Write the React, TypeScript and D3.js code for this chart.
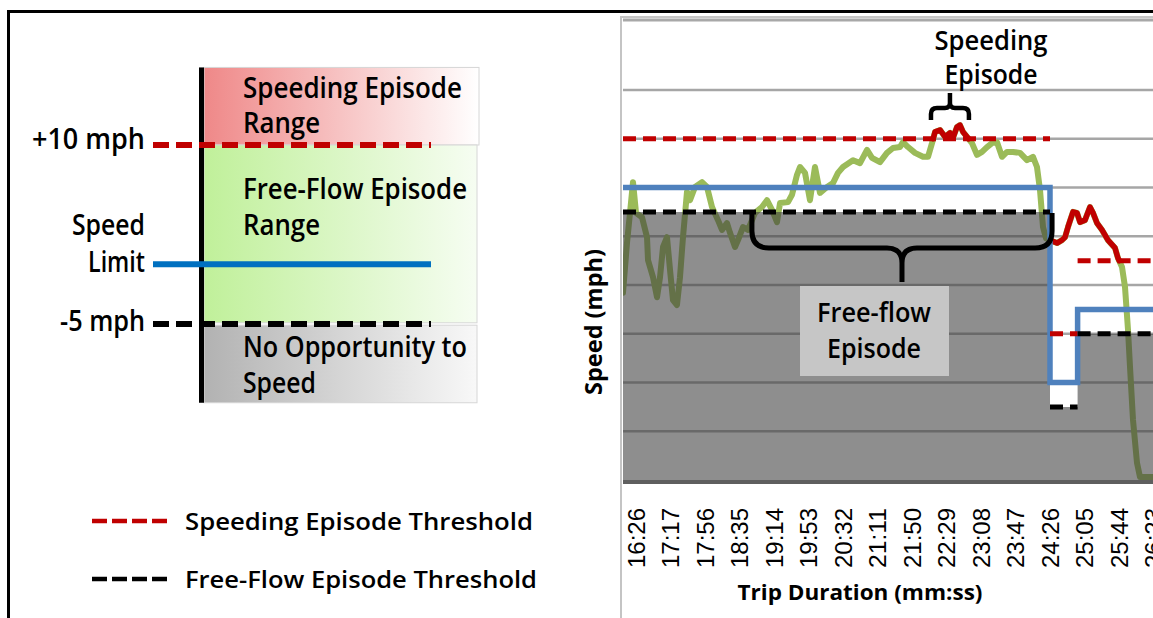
import React from 'react';
import * as d3 from 'd3';

// ---------------- Right chart data ----------------
const tickLabels = ['16:26', '17:17', '17:56', '18:35', '19:14', '19:53', '20:32', '21:11', '21:50', '22:29', '23:08', '23:47', '24:26', '25:05', '25:44', '26:23'];

// [position in tick units (0 = first label), speed in mph]
const speedTrace: [number, number][] = [
  [-0.377, 38.4], [-0.261, 48.6], [-0.174, 54.8], [-0.087, 61.1], [0.0, 54.8], [0.174, 53.9], [0.319, 49.8], [0.348, 45.1],
  [0.493, 41.6], [0.609, 37.5], [0.696, 41.6], [0.783, 47.8], [0.899, 49.8], [0.986, 43.1], [1.072, 36.9], [1.188, 35.9],
  [1.275, 41.6], [1.362, 49.8], [1.478, 59.1], [1.565, 57.4], [1.71, 60.1], [1.913, 61.1], [2.058, 60.1], [2.203, 56.0],
  [2.377, 53.3], [2.493, 51.3], [2.638, 52.7], [2.725, 50.7], [2.87, 47.8], [2.957, 49.2], [3.101, 51.9], [3.246, 51.3],
  [3.449, 54.8], [3.652, 56.0], [3.797, 57.4], [3.942, 55.4], [4.087, 52.9], [4.174, 56.8], [4.406, 57.0], [4.522, 58.5],
  [4.667, 62.6], [4.754, 64.2], [4.899, 63.0], [5.043, 57.4], [5.188, 64.2], [5.333, 58.9], [5.536, 60.1], [5.71, 60.9],
  [5.855, 63.0], [6.0, 64.2], [6.29, 65.6], [6.493, 65.0], [6.696, 67.7], [6.841, 66.1], [7.072, 65.2], [7.275, 67.1],
  [7.449, 68.1], [7.652, 68.3], [7.739, 69.3], [7.884, 68.3], [8.087, 67.1], [8.319, 66.3], [8.464, 66.3], [8.58, 69.1],
  [8.667, 71.4], [8.812, 71.8], [8.957, 70.4], [9.101, 71.2], [9.188, 70.2], [9.304, 72.4], [9.391, 72.8], [9.478, 71.4],
  [9.594, 70.4], [9.739, 69.1], [9.884, 66.7], [10.029, 67.3], [10.174, 68.3], [10.319, 69.1], [10.464, 69.3], [10.609, 66.3],
  [10.754, 67.3], [10.928, 67.3], [11.13, 67.1], [11.333, 65.6], [11.507, 66.3], [11.623, 64.2], [11.71, 59.5], [11.797, 51.9],
  [11.884, 49.6], [12.0, 49.2], [12.203, 48.6], [12.348, 49.2], [12.435, 49.8], [12.522, 51.9], [12.667, 55.0], [12.783, 54.8],
  [12.87, 52.9], [13.014, 53.3], [13.159, 56.0], [13.246, 54.8], [13.362, 52.7], [13.507, 51.3], [13.681, 49.2], [13.884, 47.6],
  [13.971, 45.5], [14.087, 43.7], [14.174, 39.6], [14.261, 30.8], [14.319, 23.2], [14.406, 12.3], [14.522, 3.5], [14.609, 0.6],
  [15.4, 0.6],
];

const segmentStart = [-0.377, 12.0, 12.8];
const segmentEnd = [12.0, 12.8, 15.4];
const speedLimit = [60, 20, 35];
const speedingThreshold = [70, 30, 45];
const freeFlowThreshold = [55, 15, 30];
const gridValues = [10, 20, 30, 40, 50, 60, 70, 80];
const freeFlowEpisode = [3.36, 12.06];
const speedingEpisode = [8.55, 9.65];

// ---------------- Left schematic data (mph relative to limit) ----------------
const bandNames = ['speeding', 'freeflow', 'noopp'];
const bandTop = [16.5, 10, -5.1];
const bandBottom = [10, -4.9, -11.6];
const bandLines = [['Speeding Episode', 'Range'], ['Free-Flow Episode', 'Range'], ['No Opportunity to', 'Speed']];
const levelValues = [10, 0, -5];
const levelLabels = [['+10 mph'], ['Speed', 'Limit'], ['-5 mph']];
const legendLabels = ['Speeding Episode Threshold', 'Free-Flow Episode Threshold'];

// ---------------- styles ----------------
const FONT = "'Open Sans', 'Noto Sans', 'DejaVu Sans', sans-serif";
const GREEN = '#9bbb59';
const RED = '#c00000';
const BLUE = '#4f81bd';
const BLUE2 = '#0070c0';

function bracePath(x0: number, x1: number, yBase: number, yMid: number, yTip: number, r: number, r2: number) {
  const dir = yTip > yBase ? 1 : -1;
  const xm = (x0 + x1) / 2;
  const half = (xe: number, s: number) =>
    `M${xe},${yBase} V${yMid - dir * r} Q${xe},${yMid} ${xe + s * r},${yMid} H${xm - s * r2} Q${xm},${yMid} ${xm},${yMid + dir * r2} V${yTip}`;
  return half(x0, 1) + ' ' + half(x1, -1);
}

export default function App() {
  // Right chart scales
  const x = d3.scaleLinear().domain([0, 15]).range([636, 636 + 15 * 34.5]);
  const y = d3.scaleLinear().domain([0, 80]).range([480, 90]);
  const plotLeft = x(segmentStart[0]);
  const plotRight = 1165;
  const plotTop = 20;
  const plotBottom = y(0);

  const segIndex = (t: number) => {
    for (let i = 0; i < segmentStart.length; i++) if (t >= segmentStart[i] && t < segmentEnd[i]) return i;
    return t < segmentStart[0] ? 0 : segmentStart.length - 1;
  };

  const line = d3.line<[number, number]>().x((d) => x(d[0])).y((d) => y(d[1]));
  const stepData = (vals: number[]) => {
    const d: [number, number][] = segmentStart.map((s, i) => [s, vals[i]]);
    d.push([segmentEnd[segmentEnd.length - 1], vals[vals.length - 1]]);
    return d;
  };
  const stepLine = d3.line<[number, number]>().curve(d3.curveStepAfter).x((d) => x(d[0])).y((d) => y(d[1]));
  const grayArea = d3
    .area<[number, number]>()
    .curve(d3.curveStepAfter)
    .x((d) => x(d[0]))
    .y0(y(0))
    .y1((d) => y(d[1]));

  // red runs where speed exceeds the speeding threshold
  const redRuns: [number, number][][] = [];
  let cur: [number, number][] | null = null;
  for (let k = 0; k < speedTrace.length - 1; k++) {
    const [t0, v0] = speedTrace[k];
    const [t1, v1] = speedTrace[k + 1];
    const th = speedingThreshold[segIndex((t0 + t1) / 2)];
    const a0 = v0 > th;
    const a1 = v1 > th;
    if (!a0 && !a1) {
      if (cur) { redRuns.push(cur); cur = null; }
      continue;
    }
    let p0: [number, number] = [t0, v0];
    let p1: [number, number] = [t1, v1];
    if (!a0) { const f = (th - v0) / (v1 - v0); p0 = [t0 + f * (t1 - t0), th]; }
    if (!a1) { const f = (th - v0) / (v1 - v0); p1 = [t0 + f * (t1 - t0), th]; }
    if (!cur || !a0) { if (cur) redRuns.push(cur); cur = [p0]; }
    cur.push(p1);
    if (!a1) { redRuns.push(cur); cur = null; }
  }
  if (cur) redRuns.push(cur);

  // Left schematic scale
  const sy = d3.scaleLinear().domain([-5, 10]).range([324, 145]);
  const bandColors = [['#ef8888', '#ffffff'], ['#c0f09a', '#f6fdf2'], ['#b2b2b2', '#f8f8f8']];
  const bandRight = [479, 477, 477];
  const bandTextOffsets = [[31, 66], [54, 90], [32, 68]];
  const bandTextWidths = [[219, 77], [224, 77], [224, 73]];
  const levelColors = [RED, BLUE2, '#000'];
  const levelBaselines = [[4], [-29, 8], [7]];
  const levelWidths = [[113], [73, 57], [85]];

  const ffBrace = bracePath(x(freeFlowEpisode[0]), x(freeFlowEpisode[1]), 213, 248, 282, 17, 15);
  const spBrace = bracePath(x(speedingEpisode[0]), x(speedingEpisode[1]), 120, 108, 93, 6, 5);

  return (
    <div style={{ position: 'fixed', left: 0, top: 0, width: 1153, height: 618, background: '#fff' }}>
      <svg width={1153} height={618} style={{ display: 'block' }} fontFamily={FONT}>
        <defs>
          {bandNames.map((n, i) => (
            <linearGradient key={n} id={`g-${n}`} x1="0" x2="1" y1="0" y2="0">
              <stop offset="0" stopColor={bandColors[i][0]} />
              <stop offset="1" stopColor={bandColors[i][1]} />
            </linearGradient>
          ))}
          <clipPath id="plotclip">
            <rect x={plotLeft} y={plotTop} width={plotRight - plotLeft} height={plotBottom - plotTop + 6} />
          </clipPath>
        </defs>

        {/* outer frame */}
        <rect x={8.5} y={11.5} width={1200} height={700} fill="none" stroke="#000" strokeWidth={3} />

        {/* ---------- Left schematic ---------- */}
        {bandNames.map((n, i) => (
          <rect key={n} x={204} y={sy(bandTop[i])} width={bandRight[i] - 204} height={sy(bandBottom[i]) - sy(bandTop[i])}
            fill={`url(#g-${n})`} stroke="#d6d6d6" strokeWidth={1} />
        ))}
        <rect x={199} y={sy(bandTop[0])} width={5} height={sy(bandBottom[2]) - sy(bandTop[0])} fill="#000" />
        {bandLines.map((lines, i) =>
          lines.map((s, j) => (
            <text key={`${i}-${j}`} x={243} y={sy(bandTop[i]) + bandTextOffsets[i][j]} fontSize={28} fontWeight={600}
              textLength={bandTextWidths[i][j]} lengthAdjust="spacingAndGlyphs" fill="#000">{s}</text>
          ))
        )}
        {levelValues.map((v, i) => (
          <line key={`lv${i}`} x1={153} x2={431} y1={sy(v)} y2={sy(v)} stroke={levelColors[i]}
            strokeWidth={6} strokeDasharray={i === 1 ? undefined : '16,7'} />
        ))}
        {levelLabels.map((lines, i) =>
          lines.map((s, j) => (
            <text key={`ll${i}-${j}`} x={145} y={sy(levelValues[i]) + levelBaselines[i][j]} textAnchor="end" fontSize={28}
              fontWeight={600} textLength={levelWidths[i][j]} lengthAdjust="spacingAndGlyphs" fill="#000">{s}</text>
          ))
        )}

        {/* legend */}
        {legendLabels.map((s, i) => (
          <g key={s}>
            <line x1={92} x2={170} y1={521 + i * 58} y2={521 + i * 58} stroke={i === 0 ? RED : '#000'} strokeWidth={4.5}
              strokeDasharray="15,5" />
            <text x={185} y={530 + i * 58} fontSize={24} fontWeight={600} textLength={i === 0 ? 348 : 352}
              lengthAdjust="spacingAndGlyphs" fill="#000">{s}</text>
          </g>
        ))}

        {/* ---------- Right chart ---------- */}
        <rect x={621} y={17} width={600} height={700} fill="#fff" stroke="#c4c4c4" strokeWidth={2} />
        <line x1={plotLeft} x2={plotRight} y1={plotTop} y2={plotTop} stroke="#a8a8a8" strokeWidth={3} />
        <g clipPath="url(#plotclip)">
          {gridValues.map((v) => (
            <line key={v} x1={plotLeft} x2={plotRight} y1={y(v)} y2={y(v)} stroke="#a6a6a6" strokeWidth={2.5} />
          ))}
          <path d={line(speedTrace) || ''} fill="none" stroke={GREEN} strokeWidth={6} strokeLinejoin="round" strokeLinecap="round" />
          {redRuns.map((r, i) => (
            <path key={i} d={line(r) || ''} fill="none" stroke={RED} strokeWidth={5.5} strokeLinejoin="round" strokeLinecap="round" />
          ))}
          <path d={grayArea(stepData(freeFlowThreshold)) || ''} fill="rgb(60,60,60)" fillOpacity={0.58} />
          <path d={stepLine(stepData(speedLimit)) || ''} fill="none" stroke={BLUE} strokeWidth={5.5} />
          {segmentStart.map((s, i) => (
            <g key={`th${i}`}>
              <line x1={x(s)} x2={x(segmentEnd[i])} y1={y(speedingThreshold[i])} y2={y(speedingThreshold[i])}
                stroke={RED} strokeWidth={5} strokeDasharray="13,7" />
              <line x1={x(s)} x2={x(segmentEnd[i])} y1={y(freeFlowThreshold[i])} y2={y(freeFlowThreshold[i])}
                stroke="#000" strokeWidth={5} strokeDasharray="13,7" />
            </g>
          ))}
          <line x1={plotLeft} x2={plotRight} y1={plotBottom + 2} y2={plotBottom + 2} stroke="#5f5f5f" strokeWidth={4} />
        </g>

        {/* annotations */}
        <path d={ffBrace} fill="none" stroke="#000" strokeWidth={5} />
        <path d={spBrace} fill="none" stroke="#000" strokeWidth={4.5} />
        <text x={991} y={50} textAnchor="middle" fontSize={27} fontWeight={600} textLength={113} lengthAdjust="spacingAndGlyphs">Speeding</text>
        <text x={991} y={84} textAnchor="middle" fontSize={27} fontWeight={600} textLength={93} lengthAdjust="spacingAndGlyphs">Episode</text>
        <rect x={800} y={286} width={149} height={90} fill="#c6c6c6" />
        <text x={874} y={322} textAnchor="middle" fontSize={27} fontWeight={600} textLength={114} lengthAdjust="spacingAndGlyphs">Free-flow</text>
        <text x={874} y={358} textAnchor="middle" fontSize={27} fontWeight={600} textLength={94} lengthAdjust="spacingAndGlyphs">Episode</text>

        {/* x tick labels */}
        {tickLabels.map((s, i) => (
          <text key={s} transform={`translate(${x(i) + 8.5},508) rotate(-90)`} textAnchor="end"
            fontFamily="'Liberation Sans', Arial, sans-serif" fontSize={23} textLength={60} lengthAdjust="spacingAndGlyphs" fill="#000">{s}</text>
        ))}

        {/* axis titles */}
        <text x={860} y={600} textAnchor="middle" fontSize={22} fontWeight={700} textLength={245} lengthAdjust="spacingAndGlyphs">Trip Duration (mm:ss)</text>
        <text transform="translate(602,322) rotate(-90)" textAnchor="middle" fontSize={24} fontWeight={700} textLength={146} lengthAdjust="spacingAndGlyphs">Speed (mph)</text>
      </svg>
    </div>
  );
}
